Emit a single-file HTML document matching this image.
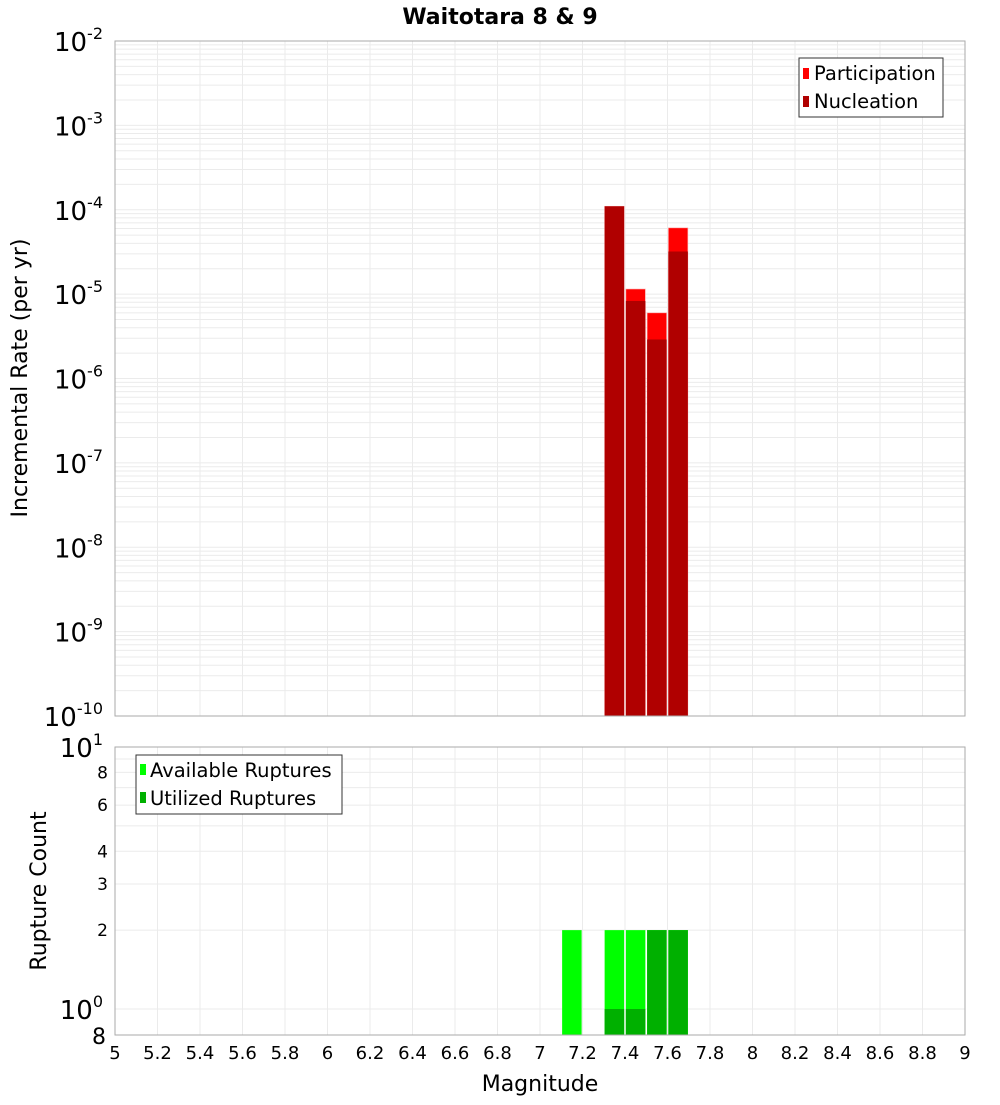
<!DOCTYPE html>
<html><head><meta charset="utf-8"><style>
body{margin:0;background:#fff;}
svg text{font-family:"DejaVu Sans","Liberation Sans",sans-serif;}
</style></head><body>
<svg id="chart" width="1000" height="1100" xmlns="http://www.w3.org/2000/svg">
<text x="500" y="24" text-anchor="middle" font-size="22" font-weight="bold">Waitotara 8 &amp; 9</text>
<g id="topG"></g>
<g id="botG"></g>
<g id="xt"></g>
<text x="540" y="1091" text-anchor="middle" font-size="22">Magnitude</text>
<text transform="translate(27,378) rotate(-90)" text-anchor="middle" font-size="22">Incremental Rate (per yr)</text>
<text transform="translate(46,891) rotate(-90)" text-anchor="middle" font-size="22">Rupture Count</text>
<g id="legs"></g>
</svg>
<script>
const mags=[7.35,7.45,7.55,7.65];
const participation=[1.1e-4,1.15e-5,6.0e-6,6.1e-5];
const nucleation=[1.1e-4,8.3e-6,2.9e-6,3.2e-5];
const countMags=[7.15,7.35,7.45,7.55,7.65];
const available=[2,2,2,2,2];
const utilized=[0,1,1,2,2];
const xTicks=["5","5.2","5.4","5.6","5.8","6","6.2","6.4","6.6","6.8","7","7.2","7.4","7.6","7.8","8","8.2","8.4","8.6","8.8","9"];
const topExps=[-2,-3,-4,-5,-6,-7,-8,-9,-10];
const botTicks=[8,6,4,3,2];

const NS="http://www.w3.org/2000/svg";
const L=115,R=965,T1=41,B1=716,T2=747,B2=1035;
const xS=m=>L+(m-5)/4*(R-L);
const yTop=v=>T1+(-2-Math.log10(v))/8*(B1-T1);
const yBot=v=>T2+(1-Math.log10(v))*262;
function el(p,tag,a){const e=document.createElementNS(NS,tag);for(const k in a)e.setAttribute(k,a[k]);p.appendChild(e);return e;}
const topG=document.getElementById('topG'),botG=document.getElementById('botG'),xt=document.getElementById('xt');
el(topG,'rect',{x:L,y:T1,width:R-L,height:B1-T1,fill:'#fff'});
el(botG,'rect',{x:L,y:T2,width:R-L,height:B2-T2,fill:'#fff'});
for(let e=-10;e<-2;e++)for(let k=1;k<10;k++){const y=yTop(k*Math.pow(10,e));
 const g=el(topG,'line',{x1:L,x2:R,y1:y,y2:y,stroke:'#ebebeb','stroke-width':1});
 
 }
xTicks.forEach(t=>{const x=xS(+t);
 const g=el(topG,'line',{x1:x,x2:x,y1:T1,y2:B1,stroke:'#ebebeb'});
 
 
 const g2=el(botG,'line',{x1:x,x2:x,y1:T2,y2:B2,stroke:'#ebebeb'});
 
 
 const tx=el(xt,'text',{x:x,y:1059,'text-anchor':'middle','font-size':18});tx.textContent=t;
 
 });
for(let k=1;k<=10;k++){const y=yBot(k);if(y>B2)continue;
 const g=el(botG,'line',{x1:L,x2:R,y1:y,y2:y,stroke:'#ebebeb'});
 
 }
topExps.forEach(e=>{const y=yTop(Math.pow(10,e));
 const t=el(topG,'text',{x:103,y:y+10,'text-anchor':'end','font-size':26});
 
 
 t.innerHTML='10<tspan dy="-12" font-size="16">'+e+'</tspan>';});
const bw=19.5;
mags.forEach((m,i)=>{const x=xS(m)-bw/2;
 const p=el(topG,'rect',{x:x,y:yTop(participation[i]),width:bw,height:B1-yTop(participation[i]),fill:'#ff0000',stroke:'#ffb0b0','stroke-width':0.6});
 
 
 const n=el(topG,'rect',{x:x,y:yTop(nucleation[i]),width:bw,height:B1-yTop(nucleation[i]),fill:'#b00000'});
 
 });
countMags.forEach((m,i)=>{const x=xS(m)-bw/2;
 const a=el(botG,'rect',{x:x,y:yBot(available[i]),width:bw,height:B2-yBot(available[i]),fill:'#00ff00'});
 
 
 if(utilized[i]>0){const u=el(botG,'rect',{x:x,y:yBot(utilized[i]),width:bw,height:B2-yBot(utilized[i]),fill:'#00b000'});
 
 }});
botTicks.forEach(v=>{const t=el(botG,'text',{x:108,y:yBot(v)+6,'text-anchor':'end','font-size':17});t.textContent=v;
 
 });
let t1=el(botG,'text',{x:103,y:T2+10,'text-anchor':'end','font-size':26});t1.innerHTML='10<tspan dy="-12" font-size="16">1</tspan>';


let t0=el(botG,'text',{x:103,y:yBot(1)+10,'text-anchor':'end','font-size':26});t0.innerHTML='10<tspan dy="-12" font-size="16">0</tspan>';


let t8=el(botG,'text',{x:106,y:B2+9,'text-anchor':'end','font-size':22});t8.textContent='8';


el(topG,'rect',{x:L,y:T1,width:R-L,height:B1-T1,fill:'none',stroke:'#aaa'});
el(botG,'rect',{x:L,y:T2,width:R-L,height:B2-T2,fill:'none',stroke:'#aaa'});
</script>
<svg style="position:absolute;left:0;top:0" width="1000" height="1100" xmlns="http://www.w3.org/2000/svg">
<g font-family="DejaVu Sans, Liberation Sans, sans-serif">
<rect x="799" y="58" width="144" height="59" fill="#fff" stroke="#333"/>
<rect x="803" y="68" width="6" height="11" fill="#ff0000"/>
<text x="814" y="80" font-size="19.5">Participation</text>
<rect x="803" y="96" width="6" height="11" fill="#b00000"/>
<text x="814" y="108" font-size="19.5">Nucleation</text>
</g>
<g font-family="DejaVu Sans, Liberation Sans, sans-serif">
<rect x="136" y="755" width="206" height="59" fill="#fff" stroke="#333"/>
<rect x="140" y="764" width="6" height="11" fill="#00ff00"/>
<text x="150" y="777" font-size="19.5">Available Ruptures</text>
<rect x="140" y="792" width="6" height="11" fill="#00b000"/>
<text x="150" y="805" font-size="19.5">Utilized Ruptures</text>
</g>
</svg>
</body></html>
